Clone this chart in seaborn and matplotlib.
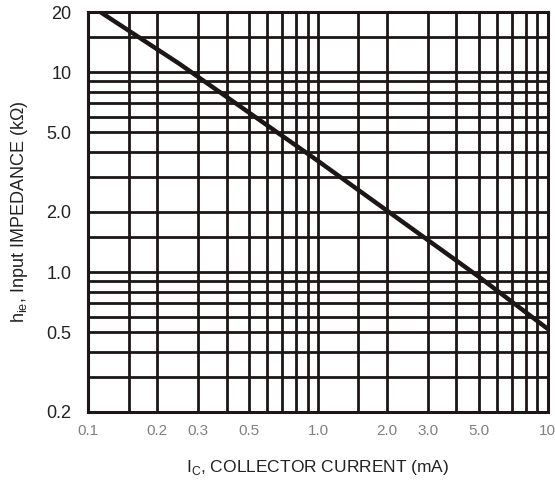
import numpy as np
import pandas as pd
import matplotlib
matplotlib.use("Agg")
import matplotlib.pyplot as plt
import seaborn as sns

# ─── Data ────────────────────────────────────────────────
ic_ma = [0.113, 0.25, 1.0, 5.0, 10.0]
hie_kohm = [20.0, 11.0, 3.6, 0.95, 0.52]

x_ticks = [0.1, 0.2, 0.3, 0.5, 1.0, 2.0, 3.0, 5.0, 10.0]
x_labels = ["0.1", "0.2", "0.3", "0.5", "1.0", "2.0", "3.0", "5.0", "10"]
y_ticks = [0.2, 0.5, 1.0, 2.0, 5.0, 10.0, 20.0]
y_labels = ["0.2", "0.5", "1.0", "2.0", "5.0", "10", "20"]

x_grid = [0.15, 0.2, 0.3, 0.4, 0.5, 0.6, 0.7, 0.8, 0.9, 1.0,
          1.5, 2, 3, 4, 5, 6, 7, 8, 9]
y_grid = [0.3, 0.4, 0.5, 0.6, 0.7, 0.8, 0.9, 1.0,
          1.5, 2, 3, 4, 5, 6, 7, 8, 9, 10, 15]

INK = "#1c1616"

sns.set_theme(style="white")
plt.rcParams["font.family"] = ["Liberation Sans", "DejaVu Sans"]

fig = plt.figure(figsize=(5.55, 4.84), dpi=100)
ax = fig.add_axes([0.159, 0.149, 0.828, 0.826])

for gx in x_grid:
    ax.axvline(gx, color=INK, lw=2.0, zorder=1)
for gy in y_grid:
    ax.axhline(gy, color=INK, lw=2.0, zorder=1)

df = pd.DataFrame({"ic": ic_ma, "hie": hie_kohm})
sns.lineplot(data=df, x="ic", y="hie", ax=ax, color=INK, lw=3.2, zorder=3)

ax.set_xscale("log")
ax.set_yscale("log")
ax.set_xlim(0.1, 10)
ax.set_ylim(0.2, 20)

ax.set_xticks(x_ticks)
ax.set_xticklabels(x_labels)
ax.set_yticks(y_ticks)
ax.set_yticklabels(y_labels)
ax.minorticks_off()
ax.tick_params(axis="x", length=0, pad=9, labelsize=11, labelcolor="#808080")
ax.tick_params(axis="y", length=0, pad=12, labelsize=13, labelcolor="#222222")

for s in ax.spines.values():
    s.set_color(INK)
    s.set_linewidth(2.2)

ax.set_xlabel("I$_\\mathregular{C}$, COLLECTOR CURRENT (mA)", fontsize=12.5,
              color="#222222", labelpad=14)
ax.set_ylabel("h$_\\mathregular{ie}$, Input IMPEDANCE (k\u03a9)", fontsize=13,
              color="#222222", labelpad=12)

plt.savefig("out.png", dpi=100)
